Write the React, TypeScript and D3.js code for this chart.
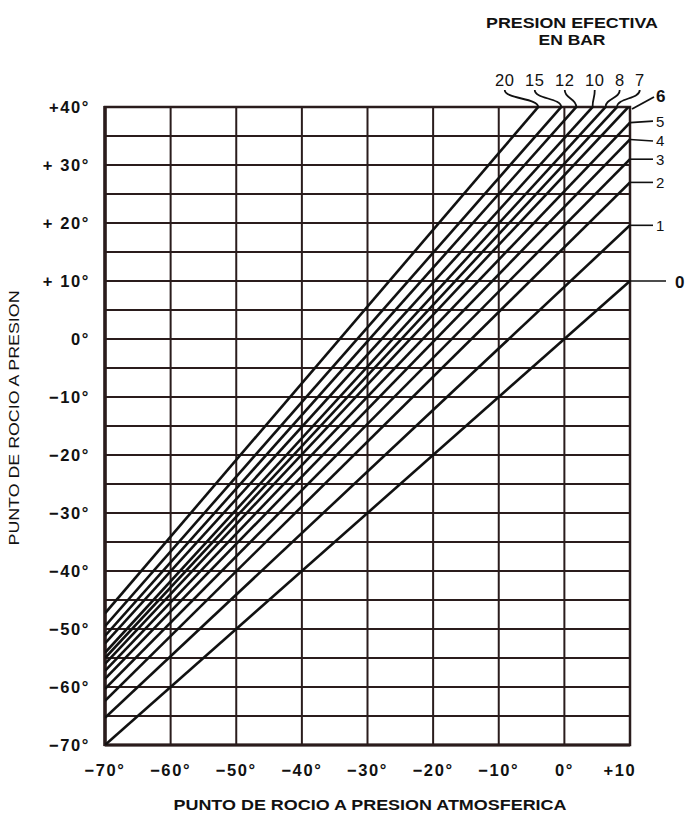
import React from "react";
import * as d3 from "d3";

// effective pressure (bar) of each line
const pressures = ["0", "1", "2", "3", "4", "5", "6", "7", "8", "10", "12", "15", "20"];
// dew point at pressure where each line meets x = -70 and x = +10 (extended past the frame)
const atMinus70 = [-70, -65.3, -62.4, -60.3, -58.6, -57.2, -56, -55, -54.1, -52.5, -51.2, -49.5, -47.3];
const atPlus10 = [10, 19.6, 27, 31, 34.4, 37.3, 40.3, 42.4, 44.6, 47.1, 50.4, 53.5, 58.5];

const xTicks = [-70, -60, -50, -40, -30, -20, -10, 0, 10];
const xTickLabels = ["−70°", "−60°", "−50°", "−40°", "−30°", "−20°", "−10°", "0°", "+10"];
const yTicks = [40, 30, 20, 10, 0, -10, -20, -30, -40, -50, -60, -70];
const yTickLabels = ["+40°", "+ 30°", "+ 20°", "+ 10°", "0°", "−10°", "−20°", "−30°", "−40°", "−50°", "−60°", "−70°"];
const topLabels = ["20", "15", "12", "10", "8", "7"];
const sideLabels = ["5", "4", "3", "2", "1"];

const W = 691;
const H = 839;
const margin = { top: 107, right: 61, bottom: 94, left: 105 };
const font = "'Liberation Sans', Arial, sans-serif";
const ink = "#111";

export default function App() {
  const x = d3.scaleLinear().domain([-70, 10]).range([margin.left, W - margin.right]);
  const y = d3.scaleLinear().domain([-70, 40]).range([H - margin.bottom, margin.top]);
  const x0 = x(-70), x1 = x(10), y0 = y(-70), y1 = y(40);

  const line = d3.line<[number, number]>().x((d) => x(d[0])).y((d) => y(d[1]));

  // where a line crosses the top of the frame
  const topCross = (i: number) => {
    const s = (atPlus10[i] - atMinus70[i]) / 80;
    return -70 + (40 - atMinus70[i]) / s;
  };

  // lay out the row "20 15 12 10 8 7"
  let cursor = x(-10) - 4;
  const topPos = topLabels.map((t) => {
    const w = t.length * 10;
    const c = cursor + w / 2;
    cursor += w + 10;
    return c;
  });

  // small nudges so the crowded side labels don't touch
  const nudge: Record<string, number> = { "5": -1.5, "4": 1.5 };

  return (
    <svg width={W} height={H} style={{ position: "absolute", left: 0, top: 0, background: "#fff" }}>
      <defs>
        <clipPath id="plot">
          <rect x={x0} y={y1} width={x1 - x0} height={y0 - y1} />
        </clipPath>
      </defs>

      {/* grid */}
      <g stroke="#2a1c1c">
        {d3.range(-65, 40, 5).map((v) => (
          <line key={"h" + v} x1={x0} x2={x1} y1={y(v)} y2={y(v)} strokeWidth={1.8} />
        ))}
        {d3.range(-60, 10, 10).map((v) => (
          <line key={"v" + v} x1={x(v)} x2={x(v)} y1={y1} y2={y0} strokeWidth={2} />
        ))}
        <rect x={x0} y={y1} width={x1 - x0} height={y0 - y1} fill="none" strokeWidth={2.5} />
        <line x1={x0} x2={x0} y1={y1 - 1} y2={y0 + 1} strokeWidth={3.5} />
        <line x1={x0} x2={x1} y1={y0} y2={y0} strokeWidth={3} />
      </g>

      {/* pressure lines */}
      <g clipPath="url(#plot)" fill="none" stroke={ink} strokeWidth={2.6}>
        {pressures.map((p, i) => (
          <path key={p} d={line([[-70, atMinus70[i]], [10, atPlus10[i]]]) || ""} />
        ))}
      </g>

      {/* y ticks */}
      <g fontFamily={font} fontWeight="bold" fontSize={16.5} fill={ink} textAnchor="end">
        {yTicks.map((v, i) => (
          <text key={v} x={x0 - 15} y={y(v) + 6} letterSpacing={1.6}>
            {yTickLabels[i]}
          </text>
        ))}
      </g>

      {/* x ticks */}
      <g fontFamily={font} fontWeight="bold" fontSize={16.5} fill={ink} textAnchor="middle">
        {xTicks.map((v, i) => (
          <text key={v} x={v === 10 ? x(v) - 10 : x(v)} y={y0 + 31} letterSpacing={1.6}>
            {xTickLabels[i]}
          </text>
        ))}
      </g>

      {/* axis titles */}
      <text x={370} y={810} fontFamily={font} fontWeight="bold" fontSize={15} fill={ink}
        textAnchor="middle" textLength={393} lengthAdjust="spacingAndGlyphs">
        PUNTO DE ROCIO A PRESION ATMOSFERICA
      </text>
      <text transform={`translate(19,${418}) rotate(-90)`} fontFamily={font} fontSize={14.5} fill={ink}
        textAnchor="middle" textLength={255} lengthAdjust="spacingAndGlyphs">
        PUNTO DE ROCIO A PRESION
      </text>

      {/* legend title */}
      <g fontFamily={font} fontWeight="bold" fontSize={15} fill={ink} textAnchor="middle">
        <text x={572} y={28} textLength={172} lengthAdjust="spacingAndGlyphs">PRESION EFECTIVA</text>
        <text x={572} y={45} textLength={67} lengthAdjust="spacingAndGlyphs">EN BAR</text>
      </g>

      {/* top pressure labels with leaders */}
      <g fontFamily={font} fontSize={16.5} fill={ink} textAnchor="middle">
        {topLabels.map((t, j) => {
          const i = pressures.indexOf(t);
          const xc = x(topCross(i));
          const cx = topPos[j];
          return (
            <g key={t}>
              <text x={cx} y={86} letterSpacing={0.5}>{t}</text>
              <path d={`M${cx},90 C${cx},99 ${xc},98 ${xc},${y1}`} fill="none" stroke={ink} strokeWidth={1.8} />
            </g>
          );
        })}
      </g>

      {/* side labels */}
      <g fontFamily={font} fontSize={15} fill={ink}>
        {sideLabels.map((t) => {
          const i = pressures.indexOf(t);
          const yy = y(atPlus10[i]);
          const ly = yy + (nudge[t] || 0);
          return (
            <g key={t}>
              <line x1={x1} x2={x1 + 23} y1={yy} y2={ly} stroke={ink} strokeWidth={1.6} />
              <text x={x1 + 26} y={ly + 5.5}>{t}</text>
            </g>
          );
        })}
        <line x1={x1 + 2} y1={y1 + 2} x2={x1 + 24} y2={y1 - 10} stroke={ink} strokeWidth={1.8} />
        <text x={x1 + 26} y={y1 - 5} fontWeight="bold" fontSize={17}>6</text>
        <line x1={x1} x2={x1 + 36} y1={y(10)} y2={y(10)} stroke={ink} strokeWidth={1.6} />
        <text x={x1 + 45} y={y(10) + 7} fontWeight="bold" fontSize={17}>0</text>
      </g>
    </svg>
  );
}
